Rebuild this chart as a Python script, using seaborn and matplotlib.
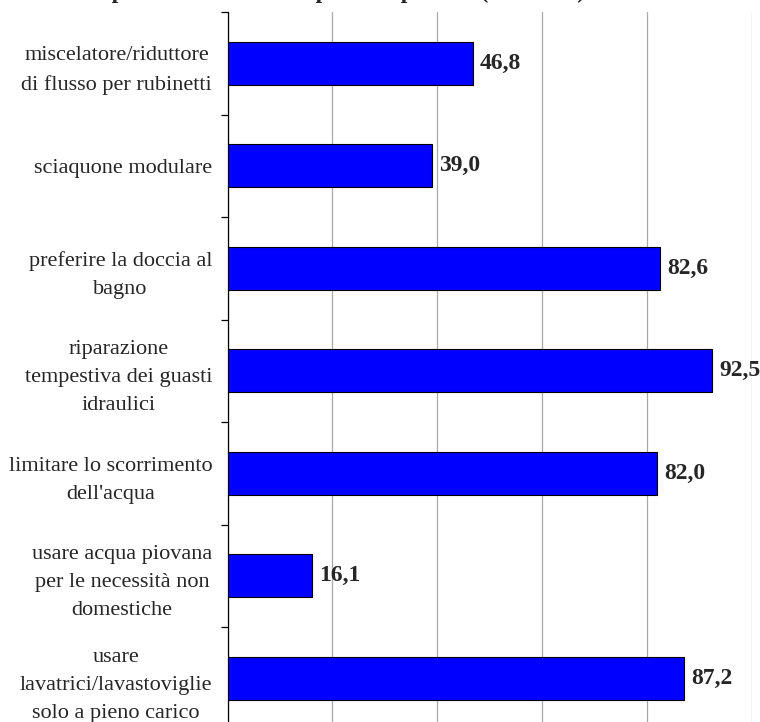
import seaborn as sns
import matplotlib.pyplot as plt
import pandas as pd
import numpy as np
from matplotlib.ticker import FixedLocator

# Dati
categorie = [
    "miscelatore/riduttore\ndi flusso per rubinetti",
    "sciaquone modulare",
    "preferire la doccia al\nbagno",
    "riparazione\ntempestiva dei guasti\nidraulici",
    "limitare lo scorrimento\ndell'acqua",
    "usare acqua piovana\nper le necessità non\ndomestiche",
    "usare\nlavatrici/lavastoviglie\nsolo a pieno carico",
]
valori = [46.8, 39.0, 82.6, 92.5, 82.0, 16.1, 87.2]
titolo = "Comportamenti adottati per il risparmio (valori %)"

df = pd.DataFrame({"categoria": categorie, "valore": valori})

sns.set_style("white")
plt.rcParams['font.family'] = ['Liberation Serif', 'DejaVu Serif']

fig = plt.figure(figsize=(7.6, 7.22), dpi=100)
ax = fig.add_axes([227.5 / 760, 1 - 729.5 / 722, (751.5 - 227.5) / 760, 717.5 / 722])

sns.barplot(data=df, y="categoria", x="valore", orient="h", ax=ax,
            color="#0000FF", saturation=1, width=0.42,
            edgecolor="black", linewidth=0.8, zorder=3)

ax.set_xlim(0, 100)
ax.set_ylim(len(categorie) - 0.5, -0.5)
ax.xaxis.set_major_locator(FixedLocator([0, 20, 40, 60, 80, 100]))
ax.grid(axis="x", color="#a8a8a8", linewidth=0.9, zorder=0)
ax.set_xticklabels([])
ax.tick_params(axis="x", length=0)

# tacche tra le categorie
ax.yaxis.set_minor_locator(FixedLocator(np.arange(-0.5, len(categorie), 1.0)))
ax.tick_params(axis="y", which="minor", length=5, width=0.9, color="black", direction="out", left=True)
ax.tick_params(axis="y", which="major", length=0, pad=11)
for lab in ax.get_yticklabels():
    lab.set_multialignment("center")
    lab.set_fontsize(16)
    lab.set_linespacing(1.65)

for s in ["top", "right", "bottom"]:
    ax.spines[s].set_visible(False)
ax.spines["left"].set_color("black")
ax.spines["left"].set_linewidth(0.9)
ax.set_xlabel("")
ax.set_ylabel("")

for i, v in enumerate(valori):
    ax.text(v + 1.3, i, f"{v:.1f}".replace(".", ","), va="center", ha="left",
            fontsize=17, fontweight="bold", zorder=4, clip_on=False)

# titolo tagliato in alto come nell'originale
fig.text(585 / 760, 1 + 2.5 / 722, titolo, ha="right", va="baseline",
         fontsize=17, fontweight="bold")

fig.savefig("out.png", dpi=100)
